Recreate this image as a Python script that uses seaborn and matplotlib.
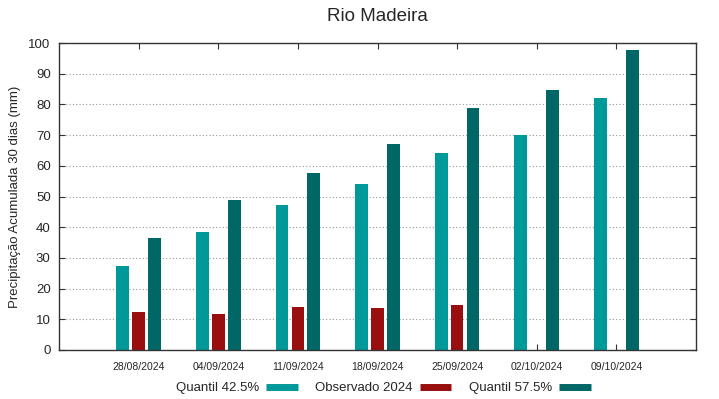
import numpy as np
import pandas as pd
import matplotlib
matplotlib.use("Agg")
import matplotlib.pyplot as plt
import seaborn as sns
from matplotlib.lines import Line2D

dates = ["28/08/2024", "04/09/2024", "11/09/2024", "18/09/2024",
         "25/09/2024", "02/10/2024", "09/10/2024"]
q425 = [27.4, 38.3, 47.1, 54.0, 64.3, 70.0, 82.0]
obs2024 = [12.3, 11.6, 14.0, 13.7, 14.7, np.nan, np.nan]
q575 = [36.5, 48.8, 57.5, 67.2, 78.9, 84.6, 97.8]
series_names = ["Quantil 42.5%", "Observado 2024", "Quantil 57.5%"]
colors = ["#009999", "#990e0e", "#006666"]

df = pd.DataFrame({
    "data": dates * 3,
    "valor": q425 + obs2024 + q575,
    "serie": [series_names[0]] * 7 + [series_names[1]] * 7 + [series_names[2]] * 7,
})

sns.set_style("white")
plt.rcParams["font.family"] = ["Liberation Sans", "DejaVu Sans"]

fig = plt.figure(figsize=(7.19, 3.99), dpi=100)
ax = fig.add_axes([59 / 719, 49 / 399, 637 / 719, 307 / 399])

sns.barplot(data=df, x="data", y="valor", hue="serie", order=dates,
            hue_order=series_names, palette=colors, width=0.6, gap=0.2,
            saturation=1, ax=ax, legend=False, linewidth=0)

ax.set_xlim(-1, 7)
ax.set_ylim(0, 100)
ax.set_yticks(np.arange(0, 101, 10))
ax.yaxis.grid(True, linestyle=(0, (1, 2)), color="#999999", linewidth=0.8)
ax.xaxis.grid(False)
ax.set_axisbelow(True)
for s in ax.spines.values():
    s.set_visible(True)
    s.set_color("#333333")
    s.set_linewidth(1.0)
ax.tick_params(axis="both", direction="in", length=4, width=0.8, color="#333333",
               top=True, right=True, bottom=True, left=True)
ax.tick_params(axis="y", labelsize=9.5, pad=6)
ax.tick_params(axis="x", labelsize=7.5, pad=9)
ax.set_xlabel("")
ax.set_ylabel("Precipitação Acumulada 30 dias (mm)", fontsize=9.5, labelpad=5)
ax.set_title("Rio Madeira", fontsize=13.5, pad=16)

handles = [Line2D([0], [0], color=c, lw=5, solid_capstyle="butt") for c in colors]
fig.legend(handles, series_names, loc="center", bbox_to_anchor=(0.533, 0.027),
           ncol=3, frameon=False, markerfirst=False, fontsize=9.5,
           handlelength=2.4, columnspacing=1.3, handletextpad=0.55)

fig.savefig("out.png", dpi=100)
